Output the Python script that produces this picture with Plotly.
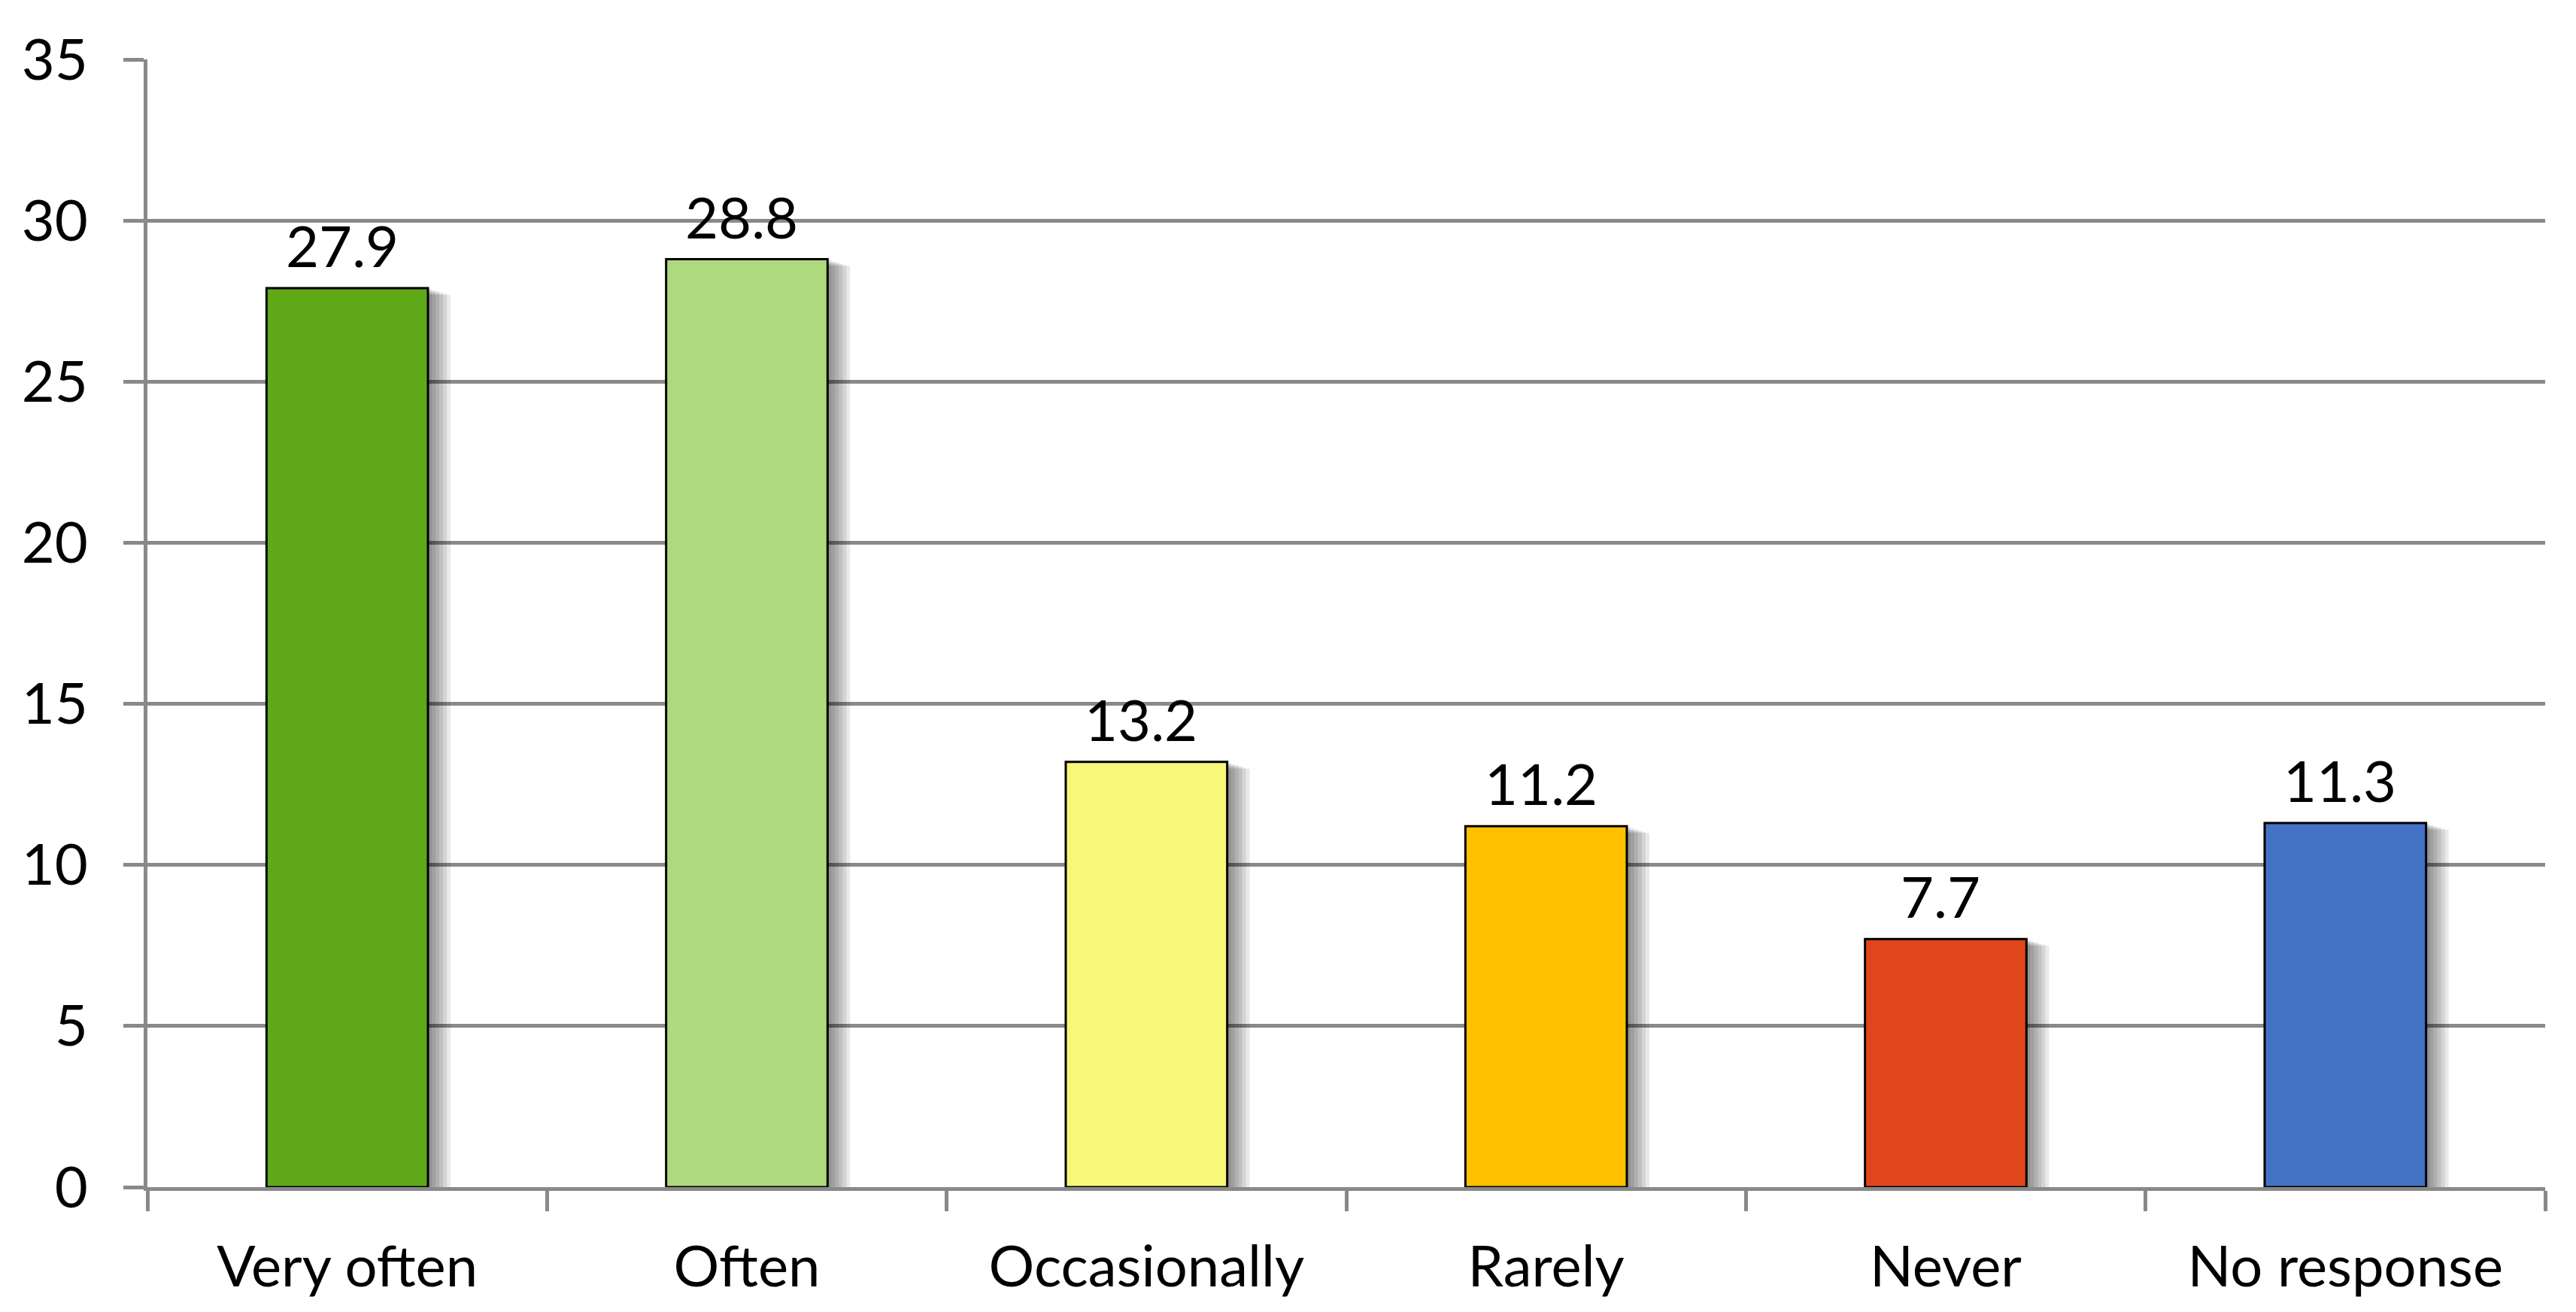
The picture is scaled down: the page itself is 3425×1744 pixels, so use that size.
import plotly.graph_objects as go

categories = ["Very often", "Often", "Occasionally", "Rarely", "Never", "No response"]
values = [27.9, 28.8, 13.2, 11.2, 7.7, 11.3]
colors = ["#5fa818", "#afd97d", "#f8f77a", "#ffc000", "#e0461b", "#4472c4"]
y_ticks = [0, 5, 10, 15, 20, 25, 30, 35]

W, H = 3425, 1744
ML, MR, MT, MB = 196, 41, 79, 166
plot_w = W - ML - MR
plot_h = H - MT - MB
px_x = len(categories) / plot_w      # category units per pixel
px_y = 35.0 / plot_h                 # value units per pixel

FONT = "Lato"
FS = 76
BW = 0.404
GRAY = "#898989"

fig = go.Figure()

# soft drop shadow layers
for k in range(1, 7):
    dx = 5 * k * px_x
    dy = 1.5 * k * px_y
    fig.add_trace(go.Bar(
        x=categories, y=values, base=[-dy] * len(values),
        width=BW, offset=-BW / 2 + dx,
        marker=dict(color="rgba(0,0,0,0.085)", line=dict(width=0)),
        hoverinfo="skip", showlegend=False,
    ))

fig.add_trace(go.Bar(
    x=categories, y=values, width=BW,
    marker=dict(color=colors, line=dict(color="black", width=3)),
    showlegend=False,
))

for c, v in zip(categories, values):
    fig.add_annotation(
        x=c, y=v, text=f"{v:.1f}", showarrow=False,
        xanchor="center", yanchor="bottom", yshift=10, xshift=-7,
        font=dict(family=FONT, size=FS, color="black"),
    )

fig.update_layout(
    width=W, height=H, barmode="overlay",
    margin=dict(l=ML, r=MR, t=MT, b=MB),
    paper_bgcolor="white", plot_bgcolor="white",
    font=dict(family=FONT, size=FS, color="black"),
)
fig.update_xaxes(
    type="category", range=[-0.5, len(categories) - 0.5],
    showline=True, linecolor=GRAY, linewidth=5,
    ticks="outside", tickson="boundaries", ticklen=27, tickwidth=5, tickcolor=GRAY,
    showgrid=False, ticklabelstandoff=36,
    tickfont=dict(family=FONT, size=FS, color="black"),
)
fig.update_yaxes(
    range=[0, 35], tickvals=y_ticks,
    showline=True, linecolor=GRAY, linewidth=5,
    showgrid=True, gridcolor=GRAY, gridwidth=5,
    ticks="outside", ticklen=27, tickwidth=5, tickcolor=GRAY,
    zeroline=False, ticklabelstandoff=32,
    tickfont=dict(family=FONT, size=FS, color="black"),
)

fig.write_html(
    "out.html",
    config={"displayModeBar": False},
    post_script="document.body.style.margin='0';document.body.style.overflow='hidden';",
)
